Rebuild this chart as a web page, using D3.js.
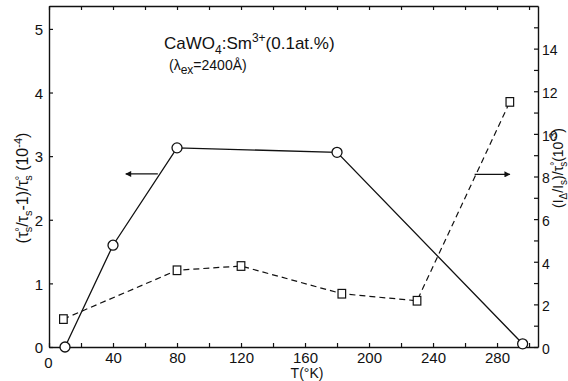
<!DOCTYPE html>
<html>
<head>
<meta charset="utf-8">
<script src="https://cdn.jsdelivr.net/npm/d3@7"></script>
<style>
  body { margin: 0; background: #fff; }
  text { font-family: "Liberation Sans", Arial, sans-serif; fill: #111; }
</style>
</head>
<body>
<svg class="chart"></svg>
<script>
// data
var tauTemps = [10, 40, 80, 180, 296],
    tauValues = [0, 1.6, 3.13, 3.06, 0.05];          // left axis, 10^-4

var ratioTemps = [9, 80, 120, 183, 230, 288],
    ratioValues = [1.31, 3.6, 3.8, 2.5, 2.17, 11.5]; // right axis, 10^-3

var xTickValues = d3.range(0, 301, 20),
    xTickLabels = [0, 40, 80, 120, 160, 200, 240, 280];
var leftTickValues = [0, 1, 2, 3, 4, 5];
var rightTickValues = d3.range(0, 16),
    rightTickLabels = [0, 2, 4, 6, 8, 10, 12, 14];

var svgWidth = 568, svgHeight = 381;
var plotLeft = 49, plotRight = 538, plotTop = 6, plotBottom = 347;

var xScale = d3.scaleLinear().domain([0, 305.6]).range([plotLeft, plotRight]),
    yLeft = d3.scaleLinear().domain([0, 5.36]).range([plotBottom, plotTop]),
    yRight = d3.scaleLinear().domain([0, 16]).range([plotBottom, plotTop]);

var svg = d3.select('.chart').attr('width', svgWidth).attr('height', svgHeight);

// axes, ticks pointing inward
var xAxis = d3.axisBottom(xScale).tickValues(xTickValues).tickSize(-4).tickSizeOuter(0).tickPadding(5)
    .tickFormat(function(d) { return xTickLabels.indexOf(d) >= 0 ? d : ''; });
var gx = svg.append('g').attr('transform', 'translate(0,' + plotBottom + ')').call(xAxis);
gx.selectAll('text').attr('font-size', 15).attr('dy', '0.72em');
gx.selectAll('.tick').filter(function(d) { return d === 0; }).select('text').attr('dy', '1.05em').attr('dx', -1);

var topAxis = d3.axisTop(xScale).tickValues(xTickValues).tickSize(-4).tickSizeOuter(0).tickFormat('');
svg.append('g').attr('transform', 'translate(0,' + plotTop + ')').call(topAxis);

var yAxisL = d3.axisLeft(yLeft).tickValues(leftTickValues).tickSize(-4).tickSizeOuter(0).tickPadding(6)
    .tickFormat(d3.format('d'));
var gl = svg.append('g').attr('transform', 'translate(' + plotLeft + ',0)').call(yAxisL);
gl.selectAll('text').attr('font-size', 15).attr('dy', '0.38em');

var yAxisR = d3.axisRight(yRight).tickValues(rightTickValues).tickSize(-4).tickSizeOuter(0).tickPadding(4)
    .tickFormat(function(d) { return rightTickLabels.indexOf(d) >= 0 ? d : ''; });
var gr = svg.append('g').attr('transform', 'translate(' + plotRight + ',0)').call(yAxisR);
gr.selectAll('text').attr('font-size', 14).attr('dy', '0.45em');

svg.selectAll('.domain').attr('stroke', '#111').attr('stroke-width', 1.4);
svg.selectAll('.tick line').attr('stroke', '#111').attr('stroke-width', 1.2);

// lines
var tauData = tauTemps.map(function(t, i) { return {t: t, v: tauValues[i]}; }),
    ratioData = ratioTemps.map(function(t, i) { return {t: t, v: ratioValues[i]}; });

svg.append('path').datum(tauData)
    .attr('d', d3.line().x(function(d) { return xScale(d.t); }).y(function(d) { return yLeft(d.v); }))
    .attr('fill', 'none').attr('stroke', '#111').attr('stroke-width', 1.3);

svg.append('path').datum(ratioData)
    .attr('d', d3.line().x(function(d) { return xScale(d.t); }).y(function(d) { return yRight(d.v); }))
    .attr('fill', 'none').attr('stroke', '#111').attr('stroke-width', 1.2).attr('stroke-dasharray', '6,4');

svg.selectAll('.dot').data(tauData).enter().append('circle')
    .attr('class', 'dot')
    .attr('cx', function(d) { return xScale(d.t); })
    .attr('cy', function(d) { return yLeft(d.v); })
    .attr('r', 5)
    .attr('fill', '#fff').attr('stroke', '#111').attr('stroke-width', 1.3);

svg.selectAll('.sq').data(ratioData).enter().append('rect')
    .attr('class', 'sq')
    .attr('x', function(d) { return xScale(d.t) - 3.8; })
    .attr('y', function(d) { return yRight(d.v) - 4.3; })
    .attr('width', 7.6).attr('height', 8.6)
    .attr('fill', '#fff').attr('stroke', '#111').attr('stroke-width', 1.2);

// arrows pointing to each axis
svg.append('defs').append('marker')
    .attr('id', 'head').attr('viewBox', '0 0 10 10').attr('refX', 9).attr('refY', 5)
    .attr('markerWidth', 7).attr('markerHeight', 6).attr('markerUnits', 'userSpaceOnUse').attr('orient', 'auto')
    .append('path').attr('d', 'M0,0L10,5L0,10z').attr('fill', '#111');

var arrows = [{from: 68, to: 48, v: 2.72, s: yLeft}, {from: 266, to: 288, v: 8.1, s: yRight}];
svg.selectAll('.arrow').data(arrows).enter().append('line')
    .attr('class', 'arrow')
    .attr('x1', function(d) { return xScale(d.from); })
    .attr('x2', function(d) { return xScale(d.to); })
    .attr('y1', function(d) { return d.s(d.v); })
    .attr('y2', function(d) { return d.s(d.v); })
    .attr('stroke', '#111').attr('stroke-width', 1.2).attr('marker-end', 'url(#head)');

// text with sub/superscripts: parts = [text, shift(px up), size, dx]
function rich(sel, parts) {
  var cur = 0;
  parts.forEach(function(p) {
    var shift = p[1] || 0;
    var t = sel.append('tspan').text(p[0]).attr('dy', -(shift - cur));
    if (p[2]) t.attr('font-size', p[2]);
    if (p[3]) t.attr('dx', p[3]);
    cur = shift;
  });
}

var title = svg.append('text').attr('x', 164).attr('y', 49).attr('font-size', 17);
rich(title, [['CaWO'], ['4', -5, 12], [':Sm', 0], ['3+', 7, 12], ['(0.1at.%)', 0]]);

var sub = svg.append('text').attr('x', 169).attr('y', 70).attr('font-size', 14);
rich(sub, [['(λ'], ['ex', -4, 12], ['=2400Å)', 0]]);

var yTitleL = svg.append('text').attr('transform', 'translate(28,188) rotate(-90)')
    .attr('text-anchor', 'middle').attr('font-size', 16).attr('font-family', 'DejaVu Sans');
rich(yTitleL, [['(τ'], ['°', 5, 11], ['s', -4, 11, -5], ['/τ', 0], ['s', -4, 11], ['-1)/τ', 0],
               ['°', 5, 11], ['s', -4, 11, -5], [' (10', 0], ['-4', 6, 11], [')', 0]]);

var yTitleR = svg.append('text').attr('transform', 'translate(563,168) rotate(-90)')
    .attr('text-anchor', 'middle').attr('font-size', 14).attr('font-family', 'DejaVu Sans');
rich(yTitleR, [['(I'], ['Δ', -4, 10], ['/I', 0], ['s', -4, 10], [')/τ', 0],
               ['°', 5, 10], ['s', -4, 10, -5], ['(10', 0], ['-3', 6, 10], [')', 0]]);

svg.append('text').attr('x', 307).attr('y', 378).attr('text-anchor', 'middle')
    .attr('font-size', 14).text('T(°K)');
</script>
</body>
</html>
